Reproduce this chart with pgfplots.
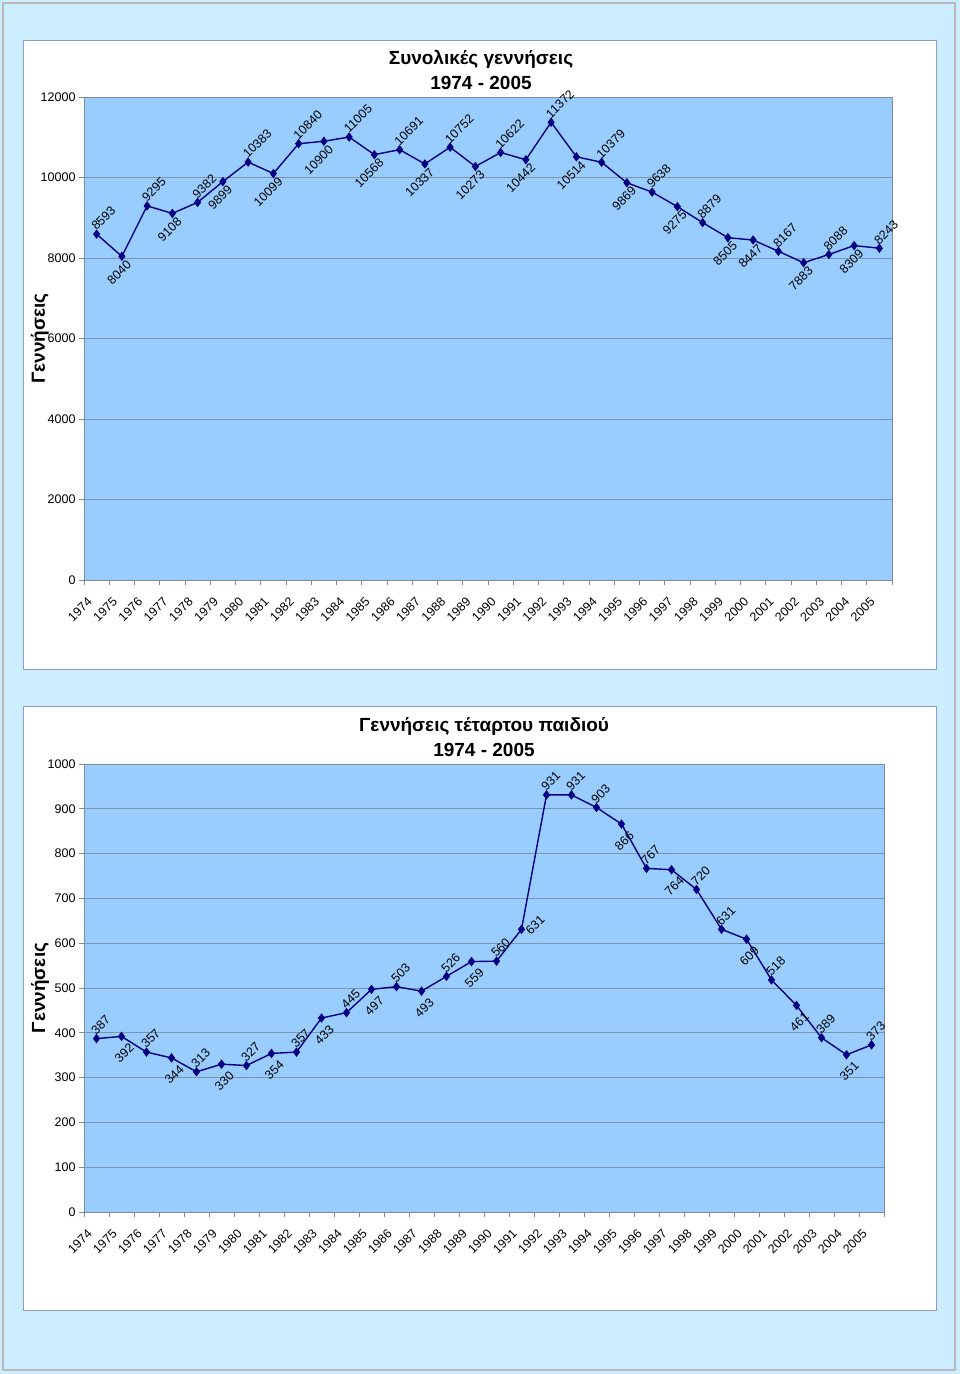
\documentclass[border=0pt]{standalone}
\usepackage{pgfplots}
\pgfplotsset{compat=1.18}
\usepackage{pgfplotstable}
\usepackage{fontspec}
\setmainfont{Liberation Sans}
\definecolor{outerbg}{HTML}{CCECFF}
\definecolor{panelborder}{HTML}{8FA2B4}
\definecolor{plotbg}{HTML}{99CCFF}
\definecolor{gridc}{HTML}{7F93A8}
\definecolor{navy}{HTML}{000080}
\definecolor{axisgray}{HTML}{7F8C99}

% pos: 1 = label above, 2 = label below, 3 = label to the lower right
\pgfplotstableread{
x y pos
0 8593 1
1 8040 2
2 9295 1
3 9108 2
4 9382 1
5 9899 2
6 10383 1
7 10099 2
8 10840 1
9 10900 2
10 11005 1
11 10568 2
12 10691 1
13 10337 2
14 10752 1
15 10273 2
16 10622 1
17 10442 2
18 11372 1
19 10514 2
20 10379 1
21 9869 2
22 9638 1
23 9275 2
24 8879 1
25 8505 2
26 8447 2
27 8167 1
28 7883 2
29 8088 1
30 8309 2
31 8243 1
}\totaldata

\pgfplotstableread{
x y pos
0 387 1
1 392 2
2 357 1
3 344 2
4 313 1
5 330 2
6 327 1
7 354 2
8 357 1
9 433 2
10 445 1
11 497 2
12 503 1
13 493 2
14 526 1
15 559 2
16 560 1
17 631 3
18 931 1
19 931 1
20 903 1
21 866 2
22 767 1
23 764 2
24 720 1
25 631 1
26 609 2
27 518 1
28 461 2
29 389 1
30 351 2
31 373 1
}\fourthdata

\pgfplotsset{
  mychart/.style={
    scale only axis,
    clip=false,
    axis background/.style={fill=plotbg},
    axis line style={draw=axisgray, line width=0.8pt},
    xmin=-0.5, xmax=31.5,
    xtick={0,...,31},
    xticklabels={1974,1975,1976,1977,1978,1979,1980,1981,1982,1983,1984,1985,1986,1987,1988,1989,1990,1991,1992,1993,1994,1995,1996,1997,1998,1999,2000,2001,2002,2003,2004,2005},
    x tick style={draw=none},
    extra x ticks={-0.5,0.5,...,31.5},
    extra x tick labels={},
    extra x tick style={grid=none, x tick style={draw=axisgray, line width=0.8pt}},
    xtick pos=bottom, ytick pos=left,
    tick align=outside,
    major tick length=5pt,
    y tick style={draw=axisgray, line width=0.8pt},
    scaled y ticks=false,
    ymajorgrids,
    major grid style={draw=gridc, line width=0.8pt},
    tick label style={font=\fontsize{12.5}{14}\selectfont},
    xticklabel style={inner sep=1pt, xshift=-10pt, yshift=-10pt, rotate=45, anchor=north east},
    /pgf/number format/assume math mode=true,
    /pgf/number format/1000 sep={},
    title style={align=center, font=\bfseries\fontsize{19}{25}\selectfont, at={(0.5,1)}, anchor=south, inner sep=2pt, yshift=-1pt},
    ylabel style={font=\bfseries\fontsize{19}{22}\selectfont, anchor=center},
  },
  labelnodes/.style 2 args={only marks, mark=diamond*, mark size=3.6pt, mark options={solid, draw=navy, fill=navy},
    restrict expr to domain={\thisrow{pos}}{#1:#1},
    nodes near coords, point meta=explicit symbolic,
    every node near coord/.append style={font=\fontsize{12.5}{14}\selectfont, text=black, inner sep=2pt, #2}},
}

\begin{document}
\begin{tikzpicture}
\useasboundingbox (0pt,0pt) rectangle (960pt,-1374pt);
\fill[outerbg] (0pt,0pt) rectangle (960pt,-1374pt);
\draw[gray!55, line width=1.5pt] (3pt,-3pt) rectangle (955pt,-1370pt);
\filldraw[fill=white, draw=panelborder, line width=1pt] (23pt,-40pt) rectangle (936pt,-669pt);
\filldraw[fill=white, draw=panelborder, line width=1pt] (23pt,-706pt) rectangle (936pt,-1310pt);

\begin{axis}[mychart,
  at={(84pt,-580pt)}, anchor=south west,
  width=808pt, height=483pt,
  ymin=0, ymax=12000, ytick={0,2000,...,12000},
  title={Συνολικές γεννήσεις\\1974 - 2005},
  title style={xshift=-7pt},
  ylabel={Γεννήσεις},
  ylabel style={at={(axis description cs:-0.0545,0.5)}},
]
\addplot[navy, line width=1.4pt, mark=diamond*, mark size=3.6pt, mark options={solid, fill=navy}] table[x=x,y=y]{\totaldata};
\addplot[labelnodes={1}{rotate=45, anchor=south west}] table[x=x,y=y,meta=y]{\totaldata};
\addplot[labelnodes={2}{xshift=4pt, rotate=45, anchor=north east}] table[x=x,y=y,meta=y]{\totaldata};
\end{axis}

\begin{axis}[mychart,
  at={(84pt,-1212pt)}, anchor=south west,
  width=800pt, height=448pt,
  ymin=0, ymax=1000, ytick={0,100,...,1000},
  title={Γεννήσεις τέταρτου παιδιού\\1974 - 2005},
  ylabel={Γεννήσεις},
  ylabel style={at={(axis description cs:-0.055,0.5)}},
]
\addplot[navy, line width=1.4pt, mark=diamond*, mark size=3.6pt, mark options={solid, fill=navy}] table[x=x,y=y]{\fourthdata};
\addplot[labelnodes={1}{rotate=45, anchor=south west}] table[x=x,y=y,meta=y]{\fourthdata};
\addplot[labelnodes={2}{xshift=7pt, yshift=-3pt, rotate=45, anchor=north east}] table[x=x,y=y,meta=y]{\fourthdata};
\addplot[labelnodes={3}{rotate=45, anchor=north west}] table[x=x,y=y,meta=y]{\fourthdata};
\end{axis}
\end{tikzpicture}
\end{document}
